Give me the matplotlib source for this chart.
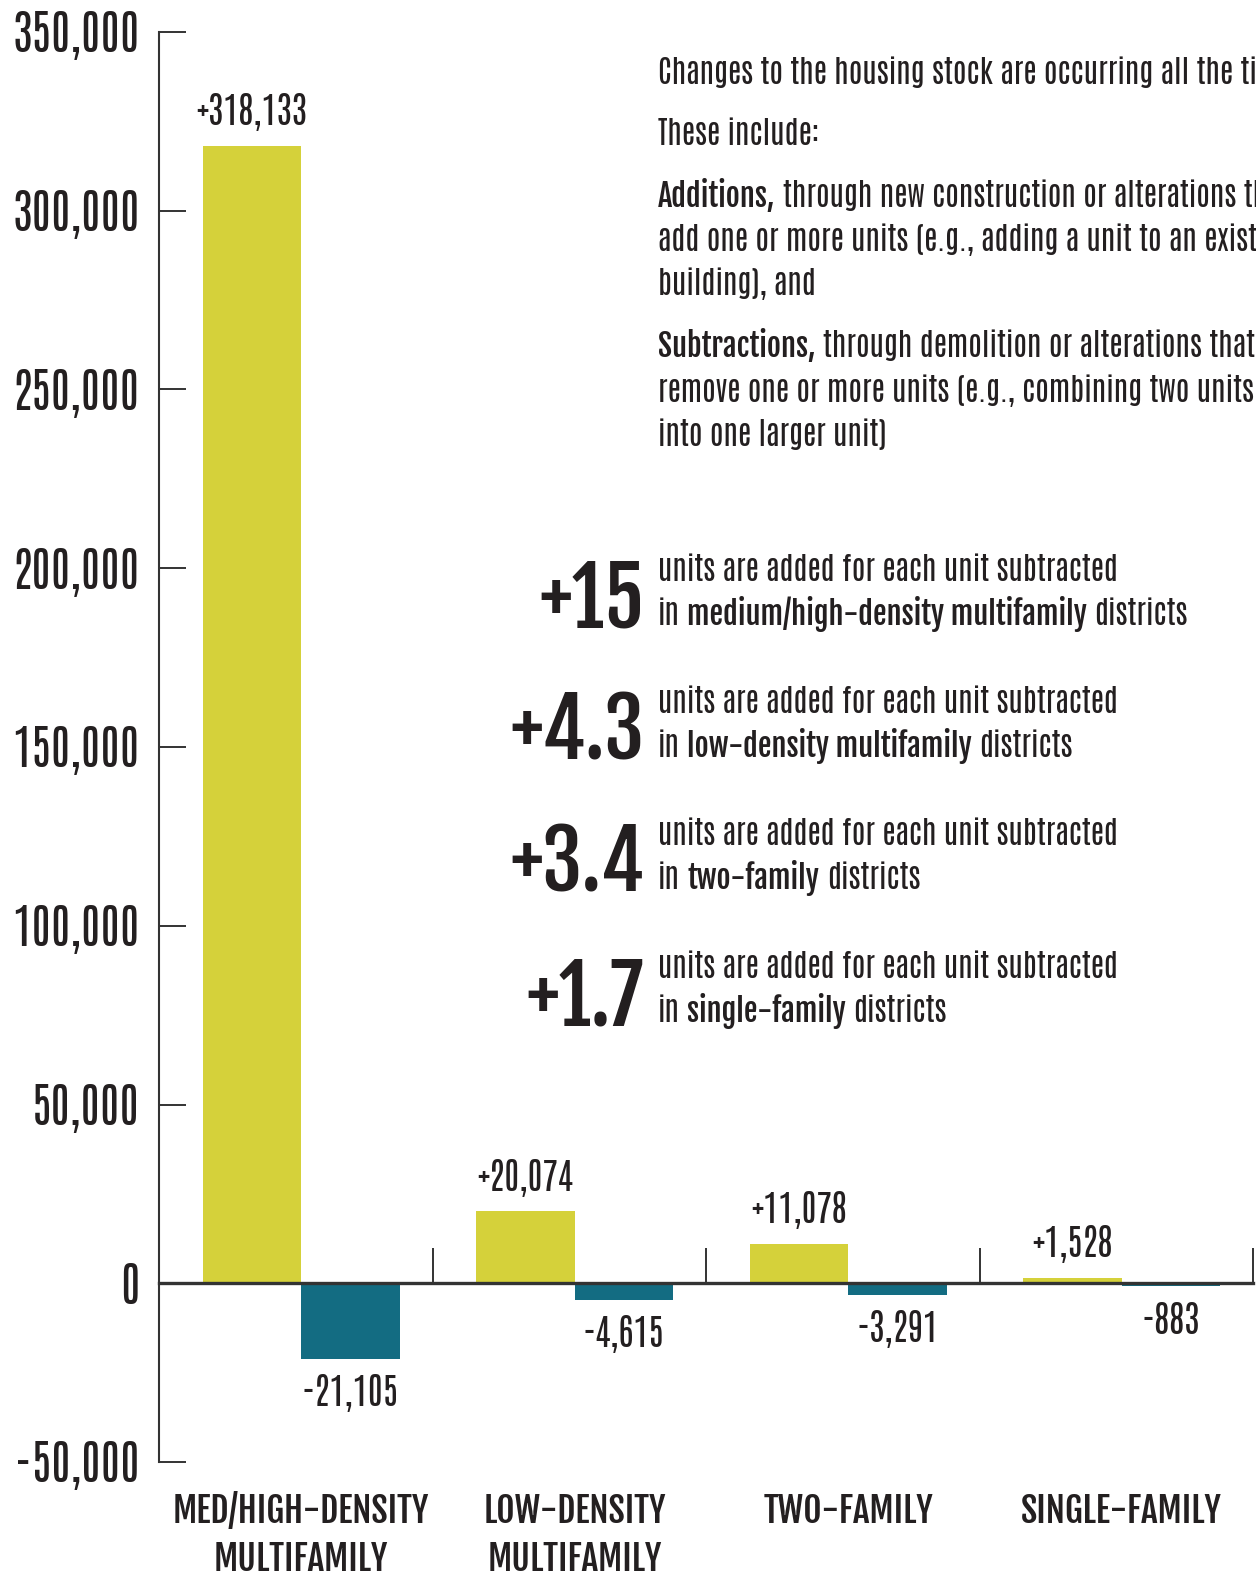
import matplotlib

matplotlib.use("Agg")

import matplotlib.pyplot as plt
from matplotlib.ticker import FuncFormatter

# ---- data -------------------------------------------------------------
categories = ["MED/HIGH-DENSITY\nMULTIFAMILY", "LOW-DENSITY\nMULTIFAMILY",
              "TWO-FAMILY", "SINGLE-FAMILY"]
additions = [318133, 20074, 11078, 1528]
subtractions = [21105, 4615, 3291, 883]
ratio_labels = ["+15", "+4.3", "+3.4", "+1.7"]
district_names = ["medium/high-density multifamily", "low-density multifamily",
                  "two-family", "single-family"]
y_ticks = [-50000, 0, 50000, 100000, 150000, 200000, 250000, 300000, 350000]

intro_lines = [
    [("Changes to the housing stock are occurring all the time.", "r")],
    [("These include:", "r")],
    [("Additions,", "b"), ("through new construction or alterations that", "r")],
    [("add one or more units (e.g., adding a unit to an existing", "r")],
    [("building), and", "r")],
    [("Subtractions,", "b"), ("through demolition or alterations that", "r")],
    [("remove one or more units (e.g., combining two units", "r")],
    [("into one larger unit)", "r")],
]

# ---- style ------------------------------------------------------------
YELLOW = "#d5d13a"
TEAL = "#136c82"
INK = "#231f20"
AXIS = "#333333"
REG = "Antonio"
BOLD = "Fjalla One"

W, H, DPI = 1256, 1576, 100


def fy(px):
    """figure fraction from a pixel row measured from the top"""
    return 1 - px / H


def draw_runs(fig, renderer, x, y, runs, size):
    """draw a line made of regular / bold runs, left to right, baseline at y px"""
    a = fig.text(0, 0, "a a", fontsize=size, family=REG)
    b = fig.text(0, 0, "aa", fontsize=size, family=REG)
    space = a.get_window_extent(renderer).width - b.get_window_extent(renderer).width
    a.remove()
    b.remove()
    for txt, kind in runs:
        fam = BOLD if kind == "b" else REG
        t = fig.text(x / W, fy(y), txt, fontsize=size, family=fam,
                     color=INK, ha="left", va="baseline")
        x += t.get_window_extent(renderer).width + space
    return x


def main():
    fig = plt.figure(figsize=(W / DPI, H / DPI), dpi=DPI)
    ax = fig.add_axes([159 / W, 114 / H, (1253 - 159) / W, 1430 / H])

    n = len(categories)
    xs = list(range(n))
    bw = 0.36
    off = 0.02
    ax.bar([x + off - bw / 2 for x in xs], additions, width=bw, color=YELLOW, zorder=2)
    ax.bar([x + off + bw / 2 for x in xs], [-v for v in subtractions], width=bw,
           color=TEAL, zorder=2)

    ax.set_xlim(-0.5, n - 0.5)
    ax.set_ylim(-50000, 350000)

    for side in ("top", "right"):
        ax.spines[side].set_visible(False)
    ax.spines["left"].set_linewidth(1.5)
    ax.spines["left"].set_color(AXIS)
    ax.spines["bottom"].set_position(("data", 0))
    ax.spines["bottom"].set_linewidth(2.4)
    ax.spines["bottom"].set_color(AXIS)
    ax.spines["bottom"].set_zorder(3)

    ax.set_yticks(y_ticks)
    ax.yaxis.set_major_formatter(FuncFormatter(lambda v, p: f"{int(v):,}"))
    ax.tick_params(axis="y", direction="in", length=19.5, width=1.4, color=AXIS,
                   pad=14, labelsize=33.5, labelcolor=INK)
    for lab in ax.get_yticklabels():
        lab.set_family(REG)

    ax.set_xticks([x + 0.5 for x in xs])
    ax.set_xticklabels([])
    ax.tick_params(axis="x", direction="in", length=25, width=1.4, color=AXIS)

    # value labels
    for x, v in zip(xs, additions):
        ax.annotate(f"+{v:,}", (x + off - bw / 2, v), xytext=(0, 15),
                    textcoords="offset points", ha="center", va="baseline",
                    fontsize=26, family=REG, color=INK)
    for x, v in zip(xs, subtractions):
        ax.annotate(f"-{v:,}", (x + off + bw / 2, -v), xytext=(0, -11),
                    textcoords="offset points", ha="center", va="top",
                    fontsize=26, family=REG, color=INK)

    # category labels under the plot
    for x, c in zip(xs, categories):
        ax.text(x + off, -0.021, c, transform=ax.get_xaxis_transform(),
                ha="center", va="top", fontsize=25.5, family=BOLD,
                color=INK, linespacing=1.3)

    renderer = fig.canvas.get_renderer()

    # intro notes at the top right
    intro_base = [84, 145, 207, 251, 295, 357, 402, 446]
    for y, runs in zip(intro_base, intro_lines):
        draw_runs(fig, renderer, 658, y, runs, 22)

    # ratio call-outs
    ratio_base = [581, 713, 845, 978]
    for y, big, name in zip(ratio_base, ratio_labels, district_names):
        fig.text(644 / W, fy(y + 47), big, fontsize=58, family=BOLD,
                 color=INK, ha="right", va="baseline")
        draw_runs(fig, renderer, 658, y, [("units are added for each unit subtracted", "r")], 22)
        draw_runs(fig, renderer, 658, y + 44, [("in", "r"), (name, "b"), ("districts", "r")], 22)

    fig.savefig("out.png", dpi=DPI)


if __name__ == "__main__":
    main()
